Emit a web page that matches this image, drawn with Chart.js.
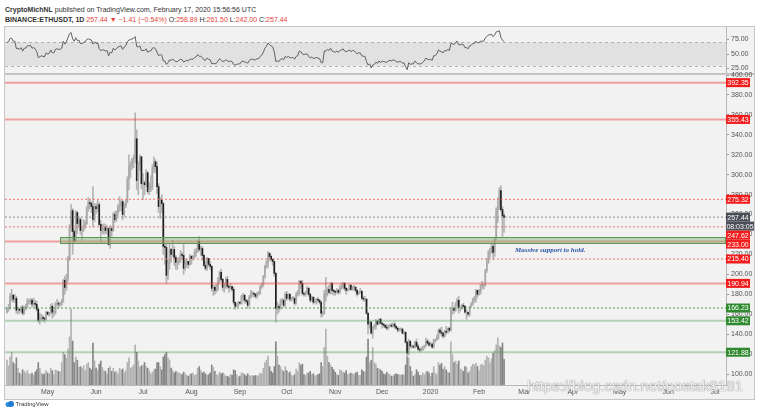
<!DOCTYPE html>
<html>
<head>
<meta charset="utf-8">
<title>BINANCE:ETHUSDT, 1D</title>
<script src="https://cdn.jsdelivr.net/npm/chart.js@4.4.1/dist/chart.umd.min.js"></script>
<style>
  html, body { margin: 0; padding: 0; background: #fff; }
  #stage { position: relative; width: 765px; height: 409px; overflow: hidden; font-family: "Liberation Sans", Arial, sans-serif; }
  #frame { position: absolute; left: 4px; top: 26px; width: 749px; height: 372px; background: #f2f2f2; border: 1px solid #c6c6c6; }
  #sep { position: absolute; left: 5px; top: 73px; width: 749px; height: 2px; background: #c4c4c4; }
  canvas { position: absolute; left: 0; top: 0; }
  .hdr { position: absolute; left: 5px; font-size: 7px; line-height: 9px; color: #333; white-space: nowrap; }
  .dn { color: #e8453c; }
  #mark { position: absolute; left: 527px; top: 377px; font-size: 15px; color: rgba(255,255,255,0.85); text-shadow: 0 0 1px #8a8a8a, 0 0 1px #8a8a8a; white-space: nowrap; }
  #logo { position: absolute; left: 5px; top: 401px; font-size: 6px; color: #333; white-space: nowrap; }
</style>
</head>
<body>
<div id="stage">
  <div class="hdr" style="top:5px"><b>CryptoMichNL</b> published on TradingView.com, February 17, 2020 15:56:56 UTC</div>
  <div class="hdr" style="top:15px"><b>BINANCE:ETHUSDT, 1D</b> <span class="dn">257.44 ▼ −1.41 (−0.54%)</span> O:<span class="dn">258.89</span> H:<span class="dn">261.50</span> L:<span class="dn">242.00</span> C:<span class="dn">257.44</span></div>
  <div id="frame"></div>
  <div id="sep"></div>
  <canvas id="price" width="765" height="409"></canvas>
  <canvas id="rsi" width="765" height="409"></canvas>
  <div id="mark">https://blog.csdn.net/eostak8181</div>
  <div id="logo"><svg width="9" height="6" viewBox="0 0 9 6" style="vertical-align:-1px"><circle cx="3" cy="3.5" r="2.5" fill="#2f8fdc"/><circle cx="6" cy="3" r="3" fill="#1f7ad0"/></svg> TradingView</div>
</div>
<script>
// daily candles, Apr 5 2019 .. Feb 17 2020 (one row per month)
const firstDay = '2019-04-05';
const firstOpen = 162;

const closes = [
  165,166,178,179,175,176,164,165,164,167,161,167,167,173,173,174,170,171,170,165,154,155,157,156,155,162,
  160,161,168,162,162,170,171,170,170,173,194,187,196,216,248,264,243,234,262,251,255,244,245,249,251,266,272,271,268,255,268,
  266,270,250,244,247,247,244,246,230,246,244,260,255,262,268,269,273,260,269,273,295,308,310,316,317,336,294,311,318,291,
  292,290,302,283,287,288,306,313,308,288,268,275,271,228,227,199,211,225,220,225,217,212,212,215,220,219,206,210,213,210,218,
  216,217,222,223,233,225,226,219,209,206,216,210,208,186,187,184,185,194,202,195,187,190,195,188,187,188,185,172,168,169,172,
  171,178,179,174,173,169,177,181,181,180,178,181,181,187,190,198,208,212,221,218,215,213,201,166,168,166,173,174,169,180,
  176,180,175,176,176,171,180,181,193,191,181,180,181,186,180,174,177,172,173,175,174,172,161,161,180,180,185,182,191,184,183,
  182,184,182,186,188,191,186,184,185,189,185,187,187,184,180,182,183,176,175,175,161,150,152,141,147,148,153,150,155,151,
  150,149,147,146,148,149,148,150,148,146,144,145,145,141,142,132,121,133,128,128,127,132,128,125,124,124,126,128,133,131,129,
  130,127,134,134,136,144,142,141,138,143,142,146,144,165,166,164,170,174,167,167,169,168,162,162,160,168,170,175,175,184,180,
  183,189,189,189,204,212,222,223,228,222,236,265,268,284,265,258.85,257.44
];

const highs = [
  167,170,181,185,180,180,178,167,166,168,169,168,170,176,175,176,176,176,174,173,166,161,160,159,157,163,
  163,162,170,171,164,172,175,173,172,175,195,198,200,218,250,270,266,245,264,263,258,257,246,255,254,268,277,275,273,288,271,
  271,275,272,254,250,251,250,249,247,249,248,262,263,264,270,278,274,274,271,275,298,320,313,316,320,362,345,313,320,318,
  301,294,305,303,292,299,310,318,315,313,291,277,280,272,231,230,215,231,226,234,228,219,214,217,224,222,230,214,216,213,220,
  219,219,225,226,234,238,228,228,220,213,217,216,213,209,189,189,190,197,203,205,196,191,197,198,189,191,188,187,172,171,173,
  173,179,181,180,175,175,179,184,183,182,181,182,183,189,191,199,209,214,223,222,219,216,213,202,172,170,175,176,175,182,
  183,181,181,177,178,177,182,184,194,194,194,182,183,188,187,181,178,178,175,176,177,175,173,163,184,197,187,189,192,192,185,
  184,186,185,189,191,192,192,187,186,190,190,188,189,188,185,183,186,184,178,178,176,162,153,153,148,150,155,154,156,156,
  151,151,149,150,149,150,151,151,152,148,147,146,146,146,143,142,133,135,133,129,129,133,135,130,126,127,128,129,136,135,133,
  132,131,135,135,139,145,146,147,142,144,148,146,147,167,172,167,172,176,178,168,170,171,169,164,162,168,172,176,178,185,184,
  185,190,193,190,205,216,224,226,230,230,237,267,277,287,289,268,261.5
];

const lows = [
  161,163,165,173,172,172,161,160,161,162,159,160,164,166,170,170,167,168,167,163,152,150,154,153,152,154,
  159,158,160,156,158,160,168,166,168,169,172,180,184,193,214,243,220,231,233,241,248,240,234,243,246,250,263,266,262,248,253,
  261,263,249,233,241,240,241,240,229,226,238,243,252,253,259,263,264,255,258,267,272,285,297,305,307,312,285,280,304,286,
  275,280,288,281,280,283,285,302,302,281,262,256,262,220,210,191,195,205,212,218,209,205,205,210,212,215,200,204,207,206,209,
  210,214,217,218,222,223,219,214,208,204,204,208,205,183,179,180,182,184,192,193,184,182,186,186,182,185,183,170,165,167,168,
  170,170,174,171,171,166,169,176,178,177,176,176,179,180,186,188,196,206,207,214,213,209,198,152,160,162,165,170,167,168,
  174,175,173,173,174,169,170,178,179,186,179,178,178,180,178,172,173,170,171,170,172,170,157,158,160,173,178,181,180,180,179,
  179,181,180,181,185,186,184,180,183,184,184,184,184,182,178,180,181,175,173,173,160,140,146,140,136,145,145,149,150,150,
  146,147,146,144,145,147,147,147,146,145,142,143,143,140,140,131,117,119,126,126,126,126,127,124,122,123,124,126,128,130,128,
  128,126,126,132,134,135,140,138,136,137,140,141,142,143,160,161,163,168,161,163,165,166,161,155,158,158,167,169,172,172,177,
  179,180,186,185,188,202,211,217,221,215,218,235,252,265,263,238,242
];

// volume, thousands of ETH
const volumes = [
  620,480,700,820,560,520,680,420,300,260,380,340,300,360,280,260,300,240,320,380,560,420,300,260,280,360,
  300,280,420,360,260,380,360,340,320,560,820,760,680,900,1200,1900,1100,560,700,620,440,460,420,480,360,520,560,420,380,1050,600,
  420,360,520,600,440,360,340,260,420,460,340,420,320,340,280,420,380,400,300,360,560,680,420,440,500,1000,820,600,440,480,
  500,560,460,420,360,280,320,380,400,560,560,460,380,700,760,820,680,620,420,360,300,340,320,300,280,260,320,280,240,220,260,
  280,300,240,260,420,460,360,300,320,280,240,260,300,500,440,340,260,240,320,280,300,260,220,220,200,260,240,380,360,260,200,
  220,300,300,260,220,280,240,220,240,220,240,220,240,300,280,420,560,620,720,460,340,300,460,1080,720,500,460,380,340,460,
  360,300,320,240,220,260,400,340,560,500,520,260,240,300,300,340,260,280,220,240,260,280,560,460,940,1400,720,560,500,440,380,
  320,260,240,380,360,320,300,360,260,280,300,280,260,300,320,240,240,380,340,320,700,1150,560,620,940,560,520,420,400,380,
  340,280,260,320,280,260,220,220,260,280,260,260,240,260,240,500,720,680,460,340,220,260,380,320,240,240,300,260,320,340,300,
  220,300,460,300,260,560,500,540,400,460,380,320,300,1080,760,560,600,520,600,400,380,340,460,440,300,340,460,520,500,540,460,
  360,500,520,480,620,720,680,560,660,800,860,1000,1180,980,940,1050,640
];

// RSI(14)
const rsi = [
  70,71,77,77,72,72,59,60,58,61,55,60,60,64,64,65,60,61,59,54,44,45,47,46,45,52,
  50,51,57,52,52,58,59,58,58,60,72,67,71,78,85,87,76,72,78,73,74,68,68,70,71,75,76,75,74,67,71,
  68,69,59,56,57,57,55,56,47,53,52,60,57,59,62,63,64,58,62,64,71,74,75,76,77,80,63,62,64,56,
  56,56,59,53,55,55,60,61,59,53,47,49,48,38,38,32,35,40,39,41,39,37,37,39,41,40,36,38,39,38,41,
  41,41,44,45,49,46,46,44,40,39,43,41,40,33,34,33,34,38,42,39,37,38,40,38,37,38,37,32,31,32,33,
  33,37,38,36,36,34,39,41,41,40,40,42,42,46,48,53,60,63,69,66,64,62,54,37,38,37,41,42,40,46,
  44,46,43,44,44,41,46,47,55,54,50,49,50,50,46,43,45,42,43,44,43,42,35,35,55,55,58,56,60,55,54,
  53,55,53,56,57,59,55,54,55,57,54,56,56,53,50,52,52,47,46,46,37,31,33,26,31,32,36,34,38,35,
  38,37,36,36,38,39,38,40,39,37,36,37,37,34,35,28,23,35,32,33,33,38,35,33,33,33,36,38,43,41,40,
  41,39,47,47,50,57,55,54,52,56,55,58,56,68,68,66,70,72,66,66,67,66,61,61,59,64,65,68,68,72,69,
  70,72,72,72,78,80,83,83,84,80,83,88,89,90,78,74,71
];

const tickDates = ['2019-05-01','2019-06-01','2019-07-01','2019-08-01','2019-09-01','2019-10-01','2019-11-01',
                   '2019-12-01','2020-01-01','2020-02-01','2020-03-01','2020-04-01','2020-05-01','2020-06-01','2020-07-01'];
const tickLabels = ['May','Jun','Jul','Aug','Sep','Oct','Nov','Dec','2020','Feb','Mar','Apr','May','Jun','Jul'];
const priceTicks = [100,120,140,160,180,200,220,240,260,280,300,320,340,360,380,400];
const rsiTicks = [25,50,75];

// horizontal levels drawn on the chart
const levelPrices = [392.35, 355.43, 275.32, 247.62, 233.00, 215.40, 190.94, 166.23, 153.42, 121.88];
const levelKinds  = ['res','res','resDot','resDot','res','resDot','res','supDot','sup','sup'];
const lastPrice = 257.44;
const countdown = '08:03:05';
const supportZone = [231.5, 237.5];
const supportZoneFrom = '2019-05-09';
const note = 'Massive support to hold.';
const noteAt = ['2020-02-24', 224];

const levelStyle = {
  res:    { color: 'rgba(240,60,60,0.45)', width: 2, dash: [],     box: '#f21c1c' },
  resDot: { color: '#ef6f6f',              width: 1, dash: [2, 2], box: '#f21c1c' },
  sup:    { color: 'rgba(70,150,70,0.35)', width: 2, dash: [],     box: '#2f8a2f' },
  supDot: { color: '#4f9a4f',              width: 1, dash: [2, 2], box: '#2f8a2f' },
  last:   { color: '#8d8d8d',              width: 1, dash: [2, 2], box: '#4a4e58' }
};

const DAY = 86400000;
const dayIndex = s => Math.round((Date.parse(s) - Date.parse(firstDay)) / DAY);
const xMin = -1.28, xMax = 460;
const FONT = '"Liberation Sans", Arial, sans-serif';

const opens = closes.map((c, i) => i === 0 ? firstOpen : closes[i - 1]);
opens[opens.length - 1] = 258.89;
const isUp = i => closes[i] >= opens[i];

// ---------- plugins ----------
const zonePlugin = {
  id: 'zone',
  afterDatasetsDraw(chart) {
    const { ctx, chartArea: a, scales: { x, y } } = chart;
    const x0 = x.getPixelForValue(dayIndex(supportZoneFrom));
    const yTop = y.getPixelForValue(supportZone[1]);
    const yBot = y.getPixelForValue(supportZone[0]);
    ctx.save();
    ctx.fillStyle = 'rgba(125,178,110,0.45)';
    ctx.fillRect(x0, yTop, a.right - x0, yBot - yTop);
    ctx.strokeStyle = '#5e9552';
    ctx.lineWidth = 1;
    ctx.strokeRect(Math.round(x0) + 0.5, Math.round(yTop) + 0.5, a.right - Math.round(x0) - 1, Math.round(yBot - yTop));
    ctx.font = 'italic bold 7px "Liberation Serif", serif';
    ctx.fillStyle = '#2b55a8';
    ctx.textBaseline = 'middle';
    ctx.fillText(note, x.getPixelForValue(dayIndex(noteAt[0])), y.getPixelForValue(noteAt[1]));
    ctx.restore();
  }
};

const axisLabelPlugin = {
  id: 'axisLabels',
  afterDraw(chart) {
    const { ctx, chartArea: a, scales: { y } } = chart;
    const items = levelPrices.map((p, k) => ({ v: p, bg: levelStyle[levelKinds[k]].box }));
    items.push({ v: lastPrice, bg: levelStyle.last.box, sub: countdown });
    items.forEach(it => { it.py = y.getPixelForValue(it.v); });
    items.sort((p, q) => p.py - q.py);
    const h = 9;
    let bottom = -1e9;
    ctx.save();
    ctx.font = '7px ' + FONT;
    ctx.textAlign = 'center';
    ctx.textBaseline = 'middle';
    items.forEach(it => {
      const top = Math.max(it.py - h / 2, bottom);
      ctx.fillStyle = it.bg;
      ctx.fillRect(a.right, top, 24, h);
      ctx.fillStyle = '#fff';
      ctx.fillText(it.v.toFixed(2), a.right + 12, top + h / 2 + 0.5);
      bottom = top + h;
      if (it.sub) {
        ctx.fillStyle = it.bg;
        ctx.fillRect(a.right, bottom, 28, h);
        ctx.fillStyle = '#fff';
        ctx.fillText(it.sub, a.right + 14, bottom + h / 2 + 0.5);
        bottom += h;
      }
    });
    ctx.restore();
  }
};

const rsiBandPlugin = {
  id: 'rsiBand',
  beforeDatasetsDraw(chart) {
    const { ctx, chartArea: a, scales: { y } } = chart;
    const y70 = y.getPixelForValue(70), y30 = y.getPixelForValue(30);
    ctx.save();
    ctx.fillStyle = '#e1e1e1';
    ctx.fillRect(a.left, y70, a.right - a.left, y30 - y70);
    ctx.strokeStyle = '#b3b3b3';
    ctx.setLineDash([3, 3]);
    ctx.lineWidth = 1;
    [y70, y30].forEach(py => {
      ctx.beginPath();
      ctx.moveTo(a.left, Math.round(py) + 0.5);
      ctx.lineTo(a.right, Math.round(py) + 0.5);
      ctx.stroke();
    });
    ctx.restore();
  }
};

// ---------- price pane ----------
const levelDatasets = levelPrices.map((p, k) => {
  const st = levelStyle[levelKinds[k]];
  return {
    type: 'line', yAxisID: 'y', order: 1,
    data: [{ x: xMin, y: p }, { x: xMax, y: p }],
    borderColor: st.color, borderWidth: st.width, borderDash: st.dash,
    pointRadius: 0, fill: false, tension: 0
  };
});
levelDatasets.push({
  type: 'line', yAxisID: 'y', order: 1,
  data: [{ x: xMin, y: lastPrice }, { x: xMax, y: lastPrice }],
  borderColor: levelStyle.last.color, borderWidth: 1, borderDash: levelStyle.last.dash,
  pointRadius: 0, fill: false
});

const tickSize = { size: 7, family: FONT };

new Chart(document.getElementById('price'), {
  type: 'bar',
  data: {
    datasets: [
      {
        label: 'Volume', yAxisID: 'yv', order: 5, grouped: false,
        data: volumes.map((v, i) => ({ x: i, y: v })),
        backgroundColor: volumes.map((v, i) => isUp(i) ? '#b2b2b2' : '#858585'),
        barThickness: 1, borderWidth: 0
      },
      {
        label: 'Wicks', yAxisID: 'y', order: 4, grouped: false,
        data: closes.map((c, i) => ({ x: i, y: [Math.min(lows[i], opens[i], c), Math.max(highs[i], opens[i], c)] })),
        backgroundColor: '#b4b4b4', barThickness: 1, borderWidth: 0
      },
      {
        label: 'ETHUSDT', yAxisID: 'y', order: 3, grouped: false,
        data: closes.map((c, i) => ({ x: i, y: [opens[i], c] })),
        backgroundColor: closes.map((c, i) => isUp(i) ? '#a9a9a9' : '#1e1e1e'),
        barThickness: 1, borderWidth: 0, minBarLength: 1
      },
      ...levelDatasets
    ]
  },
  options: {
    responsive: false, animation: false, events: [],
    layout: { padding: { left: 5, right: 11, top: 75, bottom: 12 } },
    plugins: { legend: { display: false }, tooltip: { enabled: false } },
    scales: {
      x: {
        type: 'linear', min: xMin, max: xMax, offset: false,
        grid: { display: false, drawTicks: false, tickLength: 0 },
        border: { display: true, color: '#b8b8b8' },
        afterBuildTicks: s => { s.ticks = tickDates.map(d => ({ value: dayIndex(d) })); },
        afterFit: s => { s.height = 12; },
        ticks: {
          autoSkip: false, maxRotation: 0, padding: 3, color: '#555', font: tickSize,
          callback: (v, i) => tickLabels[i]
        }
      },
      y: {
        position: 'right', min: 89, max: 400,
        grid: { display: true, drawOnChartArea: false, tickLength: 3, color: '#9a9a9a' },
        border: { display: true, color: '#b8b8b8' },
        afterBuildTicks: s => { s.ticks = priceTicks.map(v => ({ value: v })); },
        afterFit: s => { s.width = 28; },
        ticks: { padding: 2, color: '#555', font: tickSize, callback: v => Number(v).toFixed(2) }
      },
      yv: { display: false, min: 0, max: 7750 }
    }
  },
  plugins: [zonePlugin, axisLabelPlugin]
});

// ---------- RSI pane ----------
new Chart(document.getElementById('rsi'), {
  type: 'line',
  data: {
    datasets: [{
      label: 'RSI', data: rsi.map((v, i) => ({ x: i, y: v })),
      borderColor: '#606060', borderWidth: 1, pointRadius: 0, tension: 0, fill: false
    }]
  },
  options: {
    responsive: false, animation: false, events: [],
    layout: { padding: { left: 5, right: 11, top: 27, bottom: 337 } },
    plugins: { legend: { display: false }, tooltip: { enabled: false } },
    scales: {
      x: { type: 'linear', min: xMin, max: xMax, display: false },
      y: {
        position: 'right', min: 19, max: 96.5,
        grid: { display: true, drawOnChartArea: false, tickLength: 3, color: '#9a9a9a' },
        border: { display: true, color: '#b8b8b8' },
        afterBuildTicks: s => { s.ticks = rsiTicks.map(v => ({ value: v })); },
        afterFit: s => { s.width = 28; },
        ticks: { padding: 2, color: '#555', font: tickSize, callback: v => Number(v).toFixed(2) }
      }
    }
  },
  plugins: [rsiBandPlugin]
});
</script>
</body>
</html>
